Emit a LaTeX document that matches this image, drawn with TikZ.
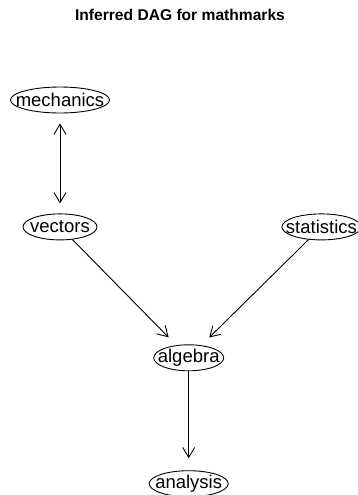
\documentclass[tikz,border=0pt]{standalone}
\usepackage{fontspec}
\setmainfont{Liberation Sans}
\usetikzlibrary{arrows.meta,shapes,positioning,calc}
\tikzset{
    var/.style={
        ellipse,
        draw=black,
        line width=0.9pt,
        inner xsep=-30pt,
        inner ysep=0pt,
        minimum height=26pt,
        font=\fontsize{18.5}{20}\selectfont,
    },
    title/.style={
        font=\fontsize{15.6}{18}\selectfont\bfseries,
        anchor=base,
    },
}

\begin{document}
\begin{tikzpicture}[x=1pt,y=1pt,>={Straight Barb[length=10pt,width=12pt]},line width=0.9pt]
    \useasboundingbox (0,0) rectangle (358,-495);
    \node [title] (head) at (180,-21) {Inferred DAG for mathmarks};

    \node [var, minimum width=99pt] (mechanics) at (60,-100) {mechanics};
    \node [var, minimum width=74pt] (vectors) [below=100pt of mechanics] {vectors};
    \node [var, minimum width=79pt] (statistics) [right=184pt of vectors] {statistics};
    \node [var, minimum width=70pt] (algebra) [below=104pt of $(vectors.south)!0.5!(statistics.south)$, xshift=-2pt] {algebra};
    \node [var, minimum width=79pt] (analysis) [below=99pt of algebra] {analysis};

    \path[<->] (mechanics) edge [shorten <=10pt, shorten >=10pt] (vectors);
    \path[->] (vectors) edge [shorten >=11pt] (algebra);
    \path[->] (statistics) edge [shorten >=11pt] (algebra);
    \path[->] (algebra) edge [shorten >=12pt] (analysis);
\end{tikzpicture}
\end{document}
